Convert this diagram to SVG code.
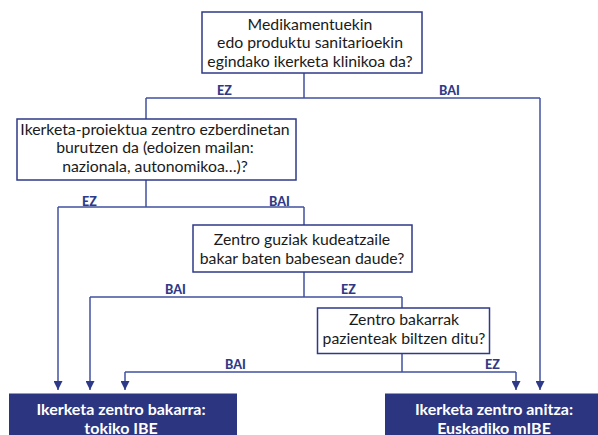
<svg xmlns="http://www.w3.org/2000/svg" width="598" height="435" viewBox="0 0 598 435">
  <defs>
    <marker id="arr" viewBox="0 0 10 10" refX="10" refY="5" markerWidth="9" markerHeight="9" markerUnits="userSpaceOnUse" orient="auto">
      <path d="M0,0 L10,5 L0,10 Z" fill="#2e3a87"/>
    </marker>
    <style>
      .q rect { fill: #ffffff; stroke: #2e3a87; stroke-width: 1.5; }
      .q text { font-family: Lato, "Liberation Sans", sans-serif; font-size: 15.8px; fill: #1a1a1a; text-anchor: middle; }
      .r rect { fill: #2b3580; }
      .r text { font-family: Lato, "Liberation Sans", sans-serif; font-size: 16px; font-weight: bold; fill: #ffffff; text-anchor: middle; }
      .c path { fill: none; stroke: #4252a0; stroke-width: 1.5; }
      .lbl { font-family: Lato, "Liberation Sans", sans-serif; font-size: 12.5px; font-weight: 900; fill: #2e3a87; }
    </style>
  </defs>
  <rect width="598" height="435" fill="#ffffff"/>

  <g id="connectors" class="c">
    <path d="M304,73 V98 M146,98 H540 M146,98 V119"/>
    <path d="M540,98 V390" marker-end="url(#arr)"/>
    <path d="M146,180 V207 M58,207 H304 M304,207 V225"/>
    <path d="M58,207 V390" marker-end="url(#arr)"/>
    <path d="M304,272 V297 M90,297 H402 M402,297 V308"/>
    <path d="M90,297 V390" marker-end="url(#arr)"/>
    <path d="M402,353 V372 M125,372 H516"/>
    <path d="M125,372 V390" marker-end="url(#arr)"/>
    <path d="M516,372 V390" marker-end="url(#arr)"/>
    <text class="lbl" x="217" y="95">EZ</text>
    <text class="lbl" x="439" y="95">BAI</text>
    <text class="lbl" x="82" y="206">EZ</text>
    <text class="lbl" x="269" y="206">BAI</text>
    <text class="lbl" x="165" y="294">BAI</text>
    <text class="lbl" x="341" y="294">EZ</text>
    <text class="lbl" x="225" y="369">BAI</text>
    <text class="lbl" x="485" y="369">EZ</text>
  </g>

  <g id="q1" class="q">
    <rect x="202" y="12" width="220" height="61"/>
    <text x="310" y="29.5">Medikamentuekin</text>
    <text x="310" y="48">edo produktu sanitarioekin</text>
    <text x="310" y="66.5">egindako ikerketa klinikoa da?</text>
  </g>

  <g id="q2" class="q">
    <rect x="17" y="119" width="279" height="61"/>
    <text x="155" y="134.5">Ikerketa-proiektua zentro ezberdinetan</text>
    <text x="155" y="153">burutzen da (edoizen mailan:</text>
    <text x="155" y="171.5">nazionala, autonomikoa…)?</text>
  </g>

  <g id="q3" class="q">
    <rect x="193" y="225" width="219" height="47"/>
    <text x="302" y="244.5">Zentro guziak kudeatzaile</text>
    <text x="302" y="263.5">bakar baten babesean daude?</text>
  </g>

  <g id="q4" class="q">
    <rect x="317.5" y="308" width="172" height="45.5"/>
    <text x="404" y="325">Zentro bakarrak</text>
    <text x="404" y="344">pazienteak biltzen ditu?</text>
  </g>

  <g id="r1" class="r">
    <rect x="9" y="393.5" width="228" height="45"/>
    <text x="121" y="415">Ikerketa zentro bakarra:</text>
    <text x="121" y="433.5">tokiko IBE</text>
  </g>

  <g id="r2" class="r">
    <rect x="385" y="393.5" width="218" height="45"/>
    <text x="494" y="415">Ikerketa zentro anitza:</text>
    <text x="494" y="433.5">Euskadiko mIBE</text>
  </g>
</svg>
